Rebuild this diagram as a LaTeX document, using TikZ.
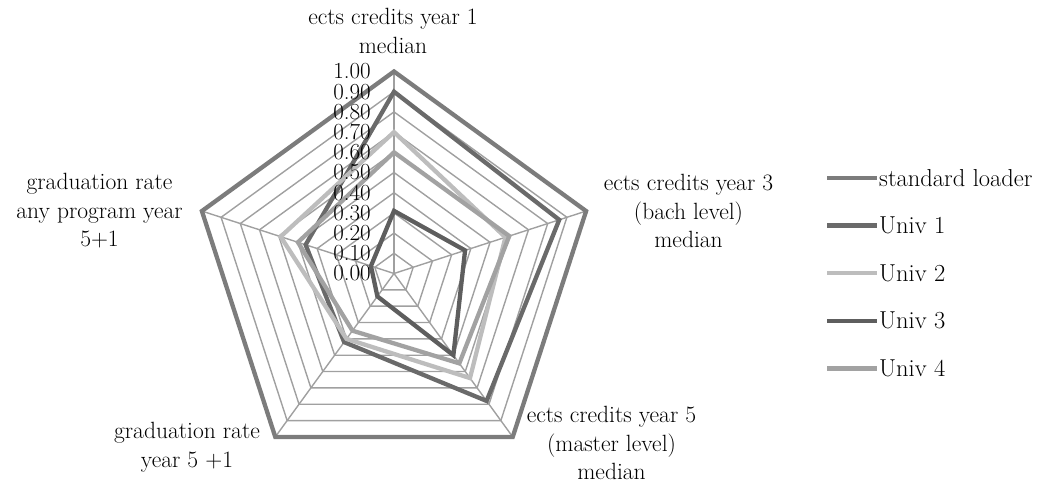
\documentclass[tikz,border=0pt]{standalone}
\usetikzlibrary{calc}
\definecolor{gridc}{HTML}{A0A0A0}
\definecolor{stdc}{HTML}{7C7C7C}
\definecolor{uonec}{HTML}{6A6A6A}
\definecolor{utwoc}{HTML}{BDBDBD}
\definecolor{uthreec}{HTML}{5E5E5E}
\definecolor{ufourc}{HTML}{A2A2A2}
\tikzset{
  gridline/.style={draw=gridc, line width=1.4pt},
  series/.style={line width=4.3pt, line join=miter},
  lbl/.style={font=\fontsize{23.5}{28.5}\selectfont, align=center, inner sep=0pt},
  tick/.style={font=\fontsize{23}{23}\selectfont, anchor=east, inner sep=0pt},
  legtext/.style={font=\fontsize{24.5}{24.5}\selectfont, anchor=west, inner sep=0pt}
}
\newcommand{\R}{202}
\begin{document}
\begin{tikzpicture}[x=1pt,y=1pt]
\useasboundingbox (0,0) rectangle (1056,486);
\coordinate (c) at (394,212.5);
% grid
\foreach \k in {1,...,10}{
  \draw[gridline] ($(c)+(90:{\k*20.2})$) -- ($(c)+(18:{\k*20.2})$) -- ($(c)+(-54:{\k*20.2})$) -- ($(c)+(-126:{\k*20.2})$) -- ($(c)+(162:{\k*20.2})$) -- cycle;
}
\foreach \a in {90,18,-54,-126,162}{
  \draw[gridline] (c) -- ($(c)+(\a:\R)$);
}
% series
\draw[series, draw=stdc] ($(c)+(90:\R)$) -- ($(c)+(18:\R)$) -- ($(c)+(-54:\R)$) -- ($(c)+(-126:\R)$) -- ($(c)+(162:\R)$) -- cycle;
\draw[series, draw=uonec] ($(c)+(90:{0.9*\R})$) -- ($(c)+(18:{0.86*\R})$) -- ($(c)+(-54:{0.78*\R})$) -- ($(c)+(-126:{0.42*\R})$) -- ($(c)+(162:{0.46*\R})$) -- cycle;
\draw[series, draw=utwoc] ($(c)+(90:{0.7*\R})$) -- ($(c)+(18:{0.58*\R})$) -- ($(c)+(-54:{0.64*\R})$) -- ($(c)+(-126:{0.40*\R})$) -- ($(c)+(162:{0.59*\R})$) -- cycle;
\draw[series, draw=uthreec] ($(c)+(90:{0.31*\R})$) -- ($(c)+(18:{0.37*\R})$) -- ($(c)+(-54:{0.5*\R})$) -- ($(c)+(-126:{0.14*\R})$) -- ($(c)+(162:{0.12*\R})$) -- cycle;
\draw[series, draw=ufourc] ($(c)+(90:{0.6*\R})$) -- ($(c)+(18:{0.6*\R})$) -- ($(c)+(-54:{0.55*\R})$) -- ($(c)+(-126:{0.35*\R})$) -- ($(c)+(162:{0.5*\R})$) -- cycle;
% tick labels
\foreach \k/\t in {0/0.00,1/0.10,2/0.20,3/0.30,4/0.40,5/0.50,6/0.60,7/0.70,8/0.80,9/0.90,10/1.00}{
  \node[tick] (t\k) at (371,{212.5+\k*20.2}) {\t};
}
% axis labels
\node[lbl] (ltop) at (393,455) {ects credits year 1\\median};
\node[lbl] (lright) at (688.5,275) {ects credits year 3\\(bach level)\\median};
\node[lbl] (lbr) at (611.5,43) {ects credits year 5\\(master level)\\median};
\node[lbl] (lbl) at (187,39) {graduation rate\\year 5 +1};
\node[lbl] (lleft) at (99.5,275) {graduation rate\\any program year\\5+1};
% legend
\foreach \i/\col/\txt in {0/stdc/standard loader,1/uonec/Univ 1,2/utwoc/Univ 2,3/uthreec/Univ 3,4/ufourc/Univ 4}{
  \coordinate (la\i) at (827,{308-\i*47.6});
  \coordinate (lb\i) at (877,{308-\i*47.6});
  \draw[line width=4.3pt, draw=\col] (la\i) -- (lb\i);
  \node[legtext] (lt\i) at (879,{308-\i*47.6}) {\txt};
}
\end{tikzpicture}
\end{document}
